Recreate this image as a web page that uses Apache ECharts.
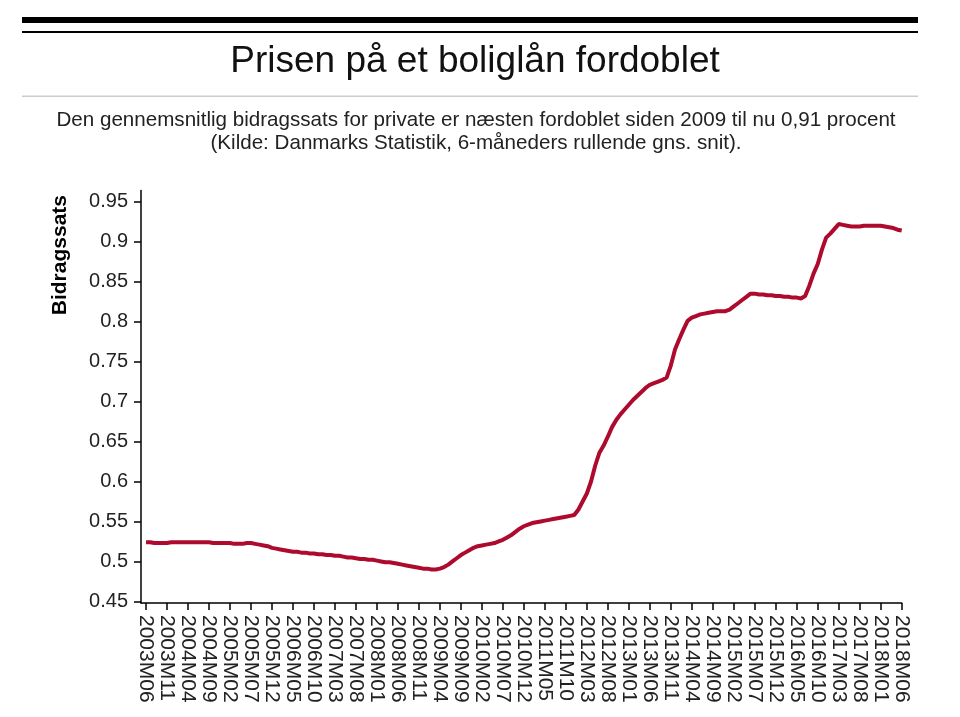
<!DOCTYPE html>
<html>
<head>
<meta charset="utf-8">
<script src="https://cdn.jsdelivr.net/npm/echarts@6/dist/echarts.min.js"></script>
<style>
html,body{margin:0;padding:0;background:#fff;}
#chart{width:960px;height:717px;}
</style>
</head>
<body>
<div id="chart"></div>
<script>
// ---- Data ----
const titleText = 'Prisen på et boliglån fordoblet';
const subtitleText = 'Den gennemsnitlig bidragssats for private er næsten fordoblet siden 2009 til nu 0,91 procent\n(Kilde: Danmarks Statistik, 6-måneders rullende gns. snit).';
const yAxisTitle = 'Bidragssats';

const startYear = 2003, startMonth = 6; // first month: 2003M06

const values2003 = [0.524,0.524,0.523,0.523,0.523,0.523,0.524];
const values2004 = [0.524,0.524,0.524,0.524,0.524,0.524,0.524,0.524,0.524,0.523,0.523,0.523];
const values2005 = [0.523,0.523,0.522,0.522,0.522,0.523,0.523,0.522,0.521,0.520,0.519,0.517];
const values2006 = [0.516,0.515,0.514,0.513,0.512,0.512,0.511,0.511,0.510,0.510,0.509,0.509];
const values2007 = [0.508,0.508,0.507,0.507,0.506,0.505,0.505,0.504,0.503,0.503,0.502,0.502];
const values2008 = [0.501,0.500,0.499,0.499,0.498,0.497,0.496,0.495,0.494,0.493,0.492,0.491];
const values2009 = [0.491,0.490,0.490,0.491,0.493,0.496,0.500,0.504,0.508,0.511,0.514,0.517];
const values2010 = [0.519,0.520,0.521,0.522,0.523,0.525,0.527,0.530,0.533,0.537,0.541,0.544];
const values2011 = [0.546,0.548,0.549,0.550,0.551,0.552,0.553,0.554,0.555,0.556,0.557,0.558];
const values2012 = [0.565,0.575,0.585,0.600,0.620,0.636,0.645,0.656,0.668,0.677,0.684,0.690];
const values2013 = [0.696,0.702,0.707,0.712,0.717,0.721,0.723,0.725,0.727,0.730,0.745,0.765];
const values2014 = [0.778,0.790,0.801,0.805,0.807,0.809,0.810,0.811,0.812,0.813,0.813,0.813];
const values2015 = [0.815,0.819,0.823,0.827,0.831,0.835,0.835,0.834,0.834,0.833,0.833,0.832];
const values2016 = [0.832,0.831,0.831,0.830,0.830,0.829,0.832,0.845,0.860,0.872,0.890,0.905];
const values2017 = [0.910,0.916,0.922,0.921,0.920,0.919,0.919,0.919,0.920,0.920,0.920,0.920];
const values2018 = [0.920,0.919,0.918,0.917,0.915,0.914];

const tickLabels = ['2003M06','2003M11','2004M04','2004M09','2005M02','2005M07','2005M12','2006M05','2006M10','2007M03','2007M08','2008M01','2008M06','2008M11','2009M04','2009M09','2010M02','2010M07','2010M12','2011M05','2011M10','2012M03','2012M08','2013M01','2013M06','2013M11','2014M04','2014M09','2015M02','2015M07','2015M12','2016M05','2016M10','2017M03','2017M08','2018M01','2018M06'];

// ---- Build ----
const values = [].concat(values2003, values2004, values2005, values2006, values2007, values2008,
  values2009, values2010, values2011, values2012, values2013, values2014, values2015,
  values2016, values2017, values2018);
const months = values.map((_, i) => {
  const m0 = startMonth - 1 + i;
  const y = startYear + Math.floor(m0 / 12);
  const m = (m0 % 12) + 1;
  return y + 'M' + (m < 10 ? '0' + m : m);
});
const seriesData = values.map((v, i) => [i, v]);

const chart = echarts.init(document.getElementById('chart'), null, {renderer: 'canvas'});
const FONT = '"Liberation Sans", Arial, sans-serif';

chart.setOption({
  animation: false,
  backgroundColor: '#fff',
  title: [{
    text: titleText,
    left: 470, top: 38, textAlign: 'center',
    textStyle: {fontFamily: FONT, fontSize: 37, fontWeight: 'normal', color: '#111'}
  }, {
    text: subtitleText,
    left: 471, top: 104, textAlign: 'center',
    textStyle: {fontFamily: FONT, fontSize: 20.6, fontWeight: 'normal', color: '#222', lineHeight: 23}
  }],
  graphic: [
    {type: 'rect', shape: {x: 22, y: 17, width: 896, height: 6}, style: {fill: '#000'}},
    {type: 'rect', shape: {x: 22, y: 31, width: 896, height: 2}, style: {fill: '#000'}},
    {type: 'rect', shape: {x: 22, y: 95.5, width: 896, height: 1.5}, style: {fill: '#ccc'}},
    {type: 'text', x: 60, y: 195, rotation: Math.PI / 2,
      style: {text: yAxisTitle, font: 'bold 21px "Liberation Sans", Arial, sans-serif', fill: '#000', align: 'right', verticalAlign: 'middle'}}
  ],
  grid: {left: 141, right: 58.3, top: 190.5, bottom: 114, containLabel: false},
  xAxis: {
    type: 'value',
    min: -1.2, max: months.length - 1,
    minInterval: 5, maxInterval: 5,
    splitLine: {show: false},
    axisLine: {show: true, onZero: false, lineStyle: {color: '#000', width: 1.5}},
    axisTick: {show: true, length: 7, lineStyle: {color: '#000', width: 1.5}},
    axisLabel: {
      show: true, rotate: -90, margin: 12,
      showMinLabel: false,
      fontFamily: FONT, fontSize: 21, color: '#222',
      formatter: function (v) {
        if (v < 0 || Math.abs(v - Math.round(v)) > 1e-6) return '';
        const idx = Math.round(v) / 5;
        return tickLabels[idx] !== undefined ? tickLabels[idx] : months[Math.round(v)];
      }
    }
  },
  yAxis: {
    type: 'value',
    min: 0.448, max: 0.964,
    minInterval: 0.05, maxInterval: 0.05,
    splitLine: {show: false},
    axisLine: {show: true, onZero: false, lineStyle: {color: '#000', width: 1.5}},
    axisTick: {show: true, length: 7, lineStyle: {color: '#000', width: 1.5}},
    axisLabel: {
      show: true, margin: 13, showMinLabel: false, showMaxLabel: false,
      fontFamily: FONT, fontSize: 20, color: '#222',
      formatter: function (v) { return String(Math.round(v * 100) / 100); }
    }
  },
  series: [{
    type: 'line',
    data: seriesData,
    showSymbol: false,
    smooth: false,
    lineStyle: {color: '#ad0a2e', width: 4},
    itemStyle: {color: '#ad0a2e'}
  }]
});
</script>
</body>
</html>
